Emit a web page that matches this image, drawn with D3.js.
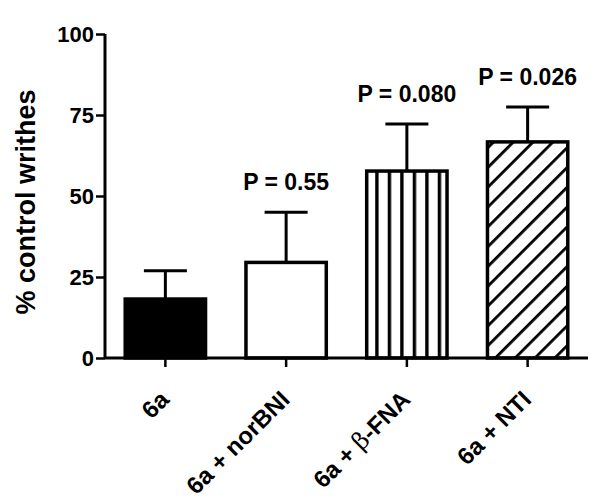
<!DOCTYPE html>
<html>
<head>
<meta charset="utf-8">
<script src="https://cdn.jsdelivr.net/npm/d3@7"></script>
<style>
  body { margin: 0; background: #fff; }
  text { font-family: "Liberation Sans", Arial, sans-serif; font-weight: bold; fill: #000; }
</style>
</head>
<body>
<div id="chart"></div>
<script>
const groups = ["6a", "6a + norBNI", "6a + β-FNA", "6a + NTI"];
const means = [18.2, 29.5, 57.7, 66.7];
const sems = [8.7, 15.5, 14.5, 10.8];
const pLabels = [null, "P = 0.55", "P = 0.080", "P = 0.026"];
const fills = ["solid", "empty", "vstripe", "diag"];
const yTicks = [0, 25, 50, 75, 100];

const svg = d3.select("#chart").append("svg")
    .attr("width", 601)
    .attr("height", 498);

const x = d3.scaleBand().domain(groups).range([105, 588]).paddingInner(0.31).paddingOuter(0.155);
const y = d3.scaleLinear().domain([0, 100]).range([358, 34]);

const defs = svg.append("defs");

// vertical stripes
defs.append("pattern")
    .attr("id", "vstripe")
    .attr("patternUnits", "userSpaceOnUse")
    .attr("width", 12.5).attr("height", 10)
    .attr("x", x(groups[2]) + 10)
    .append("rect")
    .attr("x", 0).attr("y", 0)
    .attr("width", 3.4).attr("height", 10)
    .attr("fill", "#000");

// diagonal hatch
const diag = defs.append("pattern")
    .attr("id", "diag")
    .attr("patternUnits", "userSpaceOnUse")
    .attr("width", 14).attr("height", 14)
    .attr("patternTransform", "rotate(45)");
diag.append("rect")
    .attr("x", 0).attr("y", 0)
    .attr("width", 2.8).attr("height", 14)
    .attr("fill", "#000");

function fillFor(f) {
    if (f === "solid") return "#000";
    if (f === "empty") return "#fff";
    return "url(#" + f + ")";
}

const bars = svg.append("g");

groups.forEach((grp, i) => {
    const cx = x(grp) + x.bandwidth() / 2;
    const top = y(means[i] + sems[i]);

    // error bar (upper only)
    bars.append("line")
        .attr("x1", cx).attr("x2", cx)
        .attr("y1", y(means[i])).attr("y2", top)
        .attr("stroke", "#000").attr("stroke-width", 3);
    bars.append("line")
        .attr("x1", cx - 21.5).attr("x2", cx + 21.5)
        .attr("y1", top).attr("y2", top)
        .attr("stroke", "#000").attr("stroke-width", 3);

    bars.append("rect")
        .attr("x", x(grp) + 1.5)
        .attr("y", y(means[i]))
        .attr("width", x.bandwidth() - 3)
        .attr("height", y(0) - y(means[i]))
        .attr("fill", fillFor(fills[i]))
        .attr("stroke", "#000")
        .attr("stroke-width", 3.5);

    if (pLabels[i]) {
        svg.append("text")
            .attr("x", cx)
            .attr("y", top - 22)
            .attr("text-anchor", "middle")
            .attr("font-size", 23)
            .text(pLabels[i]);
    }
});

// y axis
const yAxis = svg.append("g")
    .attr("transform", "translate(105,0)")
    .call(d3.axisLeft(y).tickValues(yTicks).tickSize(9).tickPadding(2));
yAxis.select(".domain").attr("stroke-width", 3).attr("d", "M0," + y(100) + "V" + y(0));
yAxis.selectAll(".tick line").attr("stroke-width", 2.5);
yAxis.selectAll(".tick text")
    .attr("font-size", 22)
    .attr("font-family", "Liberation Sans, Arial, sans-serif")
    .attr("font-weight", "bold");

// x axis
const xAxis = svg.append("g")
    .attr("transform", "translate(0,358)")
    .call(d3.axisBottom(x).tickSize(9).tickFormat(""));
xAxis.select(".domain").attr("stroke-width", 3).attr("d", "M105,0H588");
xAxis.selectAll(".tick line").attr("stroke-width", 2.5);

// x labels, rotated
groups.forEach((grp) => {
    const cx = x(grp) + x.bandwidth() / 2;
    const t = svg.append("text")
        .attr("transform", `translate(${cx + 5},${401}) rotate(-45)`)
        .attr("text-anchor", "end")
        .attr("font-size", 24);
    if (grp.indexOf("β") >= 0) {
        const parts = grp.split("β");
        t.append("tspan").text(parts[0]);
        t.append("tspan").attr("font-weight", "normal").attr("font-family", "DejaVu Serif, serif").text("β");
        t.append("tspan").text(parts[1]);
    } else {
        t.text(grp);
    }
});

// y title
svg.append("text")
    .attr("transform", "translate(35,202) rotate(-90)")
    .attr("text-anchor", "middle")
    .attr("font-size", 27)
    .text("% control writhes");
</script>
</body>
</html>
